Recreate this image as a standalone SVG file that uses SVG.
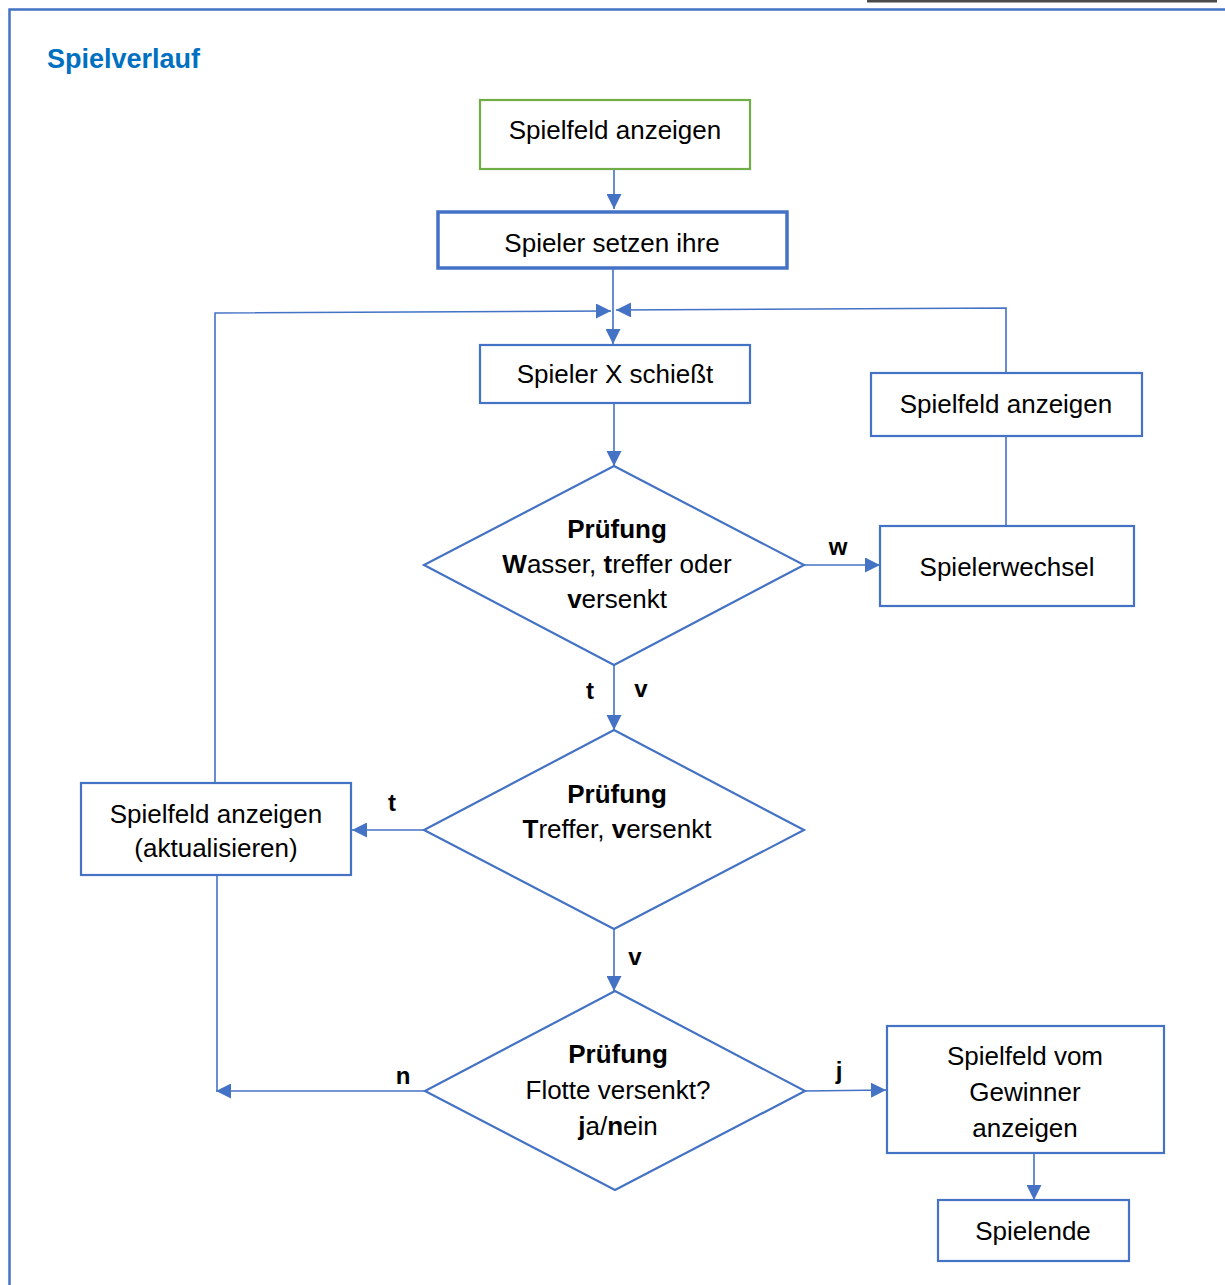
<svg xmlns="http://www.w3.org/2000/svg" width="1225" height="1285" viewBox="0 0 1225 1285">
<style>
.box{fill:#fff;stroke:#4472C4;stroke-width:2.2}
.thick{stroke-width:3.5}
.green{stroke:#70AD47}
.dia{fill:#fff;stroke:#4472C4;stroke-width:2.2}
.c{fill:none;stroke:#4472C4;stroke-width:1.6}
.t{font-family:"Liberation Sans",Arial,sans-serif;font-size:26px;fill:#000;text-anchor:middle}
.b{font-weight:bold}
.lbl{font-family:"Liberation Sans",Arial,sans-serif;font-size:24px;font-weight:bold;fill:#000;text-anchor:middle}
</style>
<defs>
<marker id="ah" markerUnits="userSpaceOnUse" markerWidth="16" markerHeight="15" refX="15" refY="7.5" orient="auto">
<path d="M0,0 L15,7.5 L0,15 z" fill="#4472C4"/>
</marker>
</defs>
<rect width="1225" height="1285" fill="#fff"/>
<rect x="867" y="0" width="350" height="2.5" fill="#4a4a4a"/>
<g id="frame" fill="none" stroke="#4472C4" stroke-width="2.5">
<path d="M1225,9.5 L9.5,9.5 L9.5,1285"/>
</g>
<text id="title" x="47" y="68" font-family="Liberation Sans,Arial,sans-serif" font-size="27" font-weight="bold" fill="#0070C0">Spielverlauf</text>
<g id="connectors">
<path class="c" d="M614,169 L614,209" marker-end="url(#ah)"/>
<path class="c" d="M613,268 L613,344" marker-end="url(#ah)"/>
<path class="c" d="M215,783 L215,313 L611,311" marker-end="url(#ah)"/>
<path class="c" d="M1006,526 L1006,436"/>
<path class="c" d="M1006,373 L1006,308 L616,310" marker-end="url(#ah)"/>
<path class="c" d="M614,403 L614,466" marker-end="url(#ah)"/>
<path class="c" d="M804,565 L880,565" marker-end="url(#ah)"/>
<path class="c" d="M614,665 L614,730" marker-end="url(#ah)"/>
<path class="c" d="M424,830 L352,830" marker-end="url(#ah)"/>
<path class="c" d="M614,929 L614,991" marker-end="url(#ah)"/>
<path class="c" d="M217,875 L217,1091"/>
<path class="c" d="M425,1091 L216,1091" marker-end="url(#ah)"/>
<path class="c" d="M805,1091 L886,1090" marker-end="url(#ah)"/>
<path class="c" d="M1034,1153 L1034,1200" marker-end="url(#ah)"/>
<text class="lbl" x="838" y="555">w</text>
<text class="lbl" x="590" y="699">t</text>
<text class="lbl" x="641" y="697">v</text>
<text class="lbl" x="392" y="811">t</text>
<text class="lbl" x="635" y="965">v</text>
<text class="lbl" x="403" y="1084">n</text>
<text class="lbl" x="839" y="1079">j</text>
</g>
<g id="n1"><rect class="box green" x="480" y="100" width="270" height="69"/><text class="t" x="615" y="139">Spielfeld anzeigen</text></g>
<g id="n2"><rect class="box thick" x="438" y="212" width="349" height="56"/><text class="t" x="612" y="252">Spieler setzen ihre</text></g>
<g id="n3"><rect class="box" x="480" y="345" width="270" height="58"/><text class="t" x="615" y="383">Spieler X schießt</text></g>
<g id="n4"><rect class="box" x="871" y="373" width="271" height="63"/><text class="t" x="1006" y="413">Spielfeld anzeigen</text></g>
<g id="n5"><rect class="box" x="880" y="526" width="254" height="80"/><text class="t" x="1007" y="576">Spielerwechsel</text></g>
<g id="d1"><path class="dia" d="M614,466 L804,565 L614,665 L424,565 z"/>
<text class="t b" x="617" y="538">Prüfung</text>
<text class="t" x="617" y="573" font-size="27"><tspan class="b">W</tspan>asser, <tspan class="b">t</tspan>reffer oder</text>
<text class="t" x="617" y="608"><tspan class="b">v</tspan>ersenkt</text></g>
<g id="d2"><path class="dia" d="M614,730 L804,830 L614,929 L424,830 z"/>
<text class="t b" x="617" y="803">Prüfung</text>
<text class="t" x="617" y="838"><tspan class="b">T</tspan>reffer, <tspan class="b">v</tspan>ersenkt</text></g>
<g id="n6"><rect class="box" x="81" y="783" width="270" height="92"/><text class="t" x="216" y="823">Spielfeld anzeigen</text><text class="t" x="216" y="857">(aktualisieren)</text></g>
<g id="d3"><path class="dia" d="M615,991 L805,1091 L615,1190 L425,1091 z"/>
<text class="t b" x="618" y="1063">Prüfung</text>
<text class="t" x="618" y="1099">Flotte versenkt?</text>
<text class="t" x="618" y="1135"><tspan class="b">j</tspan>a/<tspan class="b">n</tspan>ein</text></g>
<g id="n7"><rect class="box" x="887" y="1026" width="277" height="127"/><text class="t" x="1025" y="1065">Spielfeld vom</text><text class="t" x="1025" y="1101">Gewinner</text><text class="t" x="1025" y="1137">anzeigen</text></g>
<g id="n8"><rect class="box" x="938" y="1200" width="191" height="61"/><text class="t" x="1033" y="1240">Spielende</text></g>
</svg>
